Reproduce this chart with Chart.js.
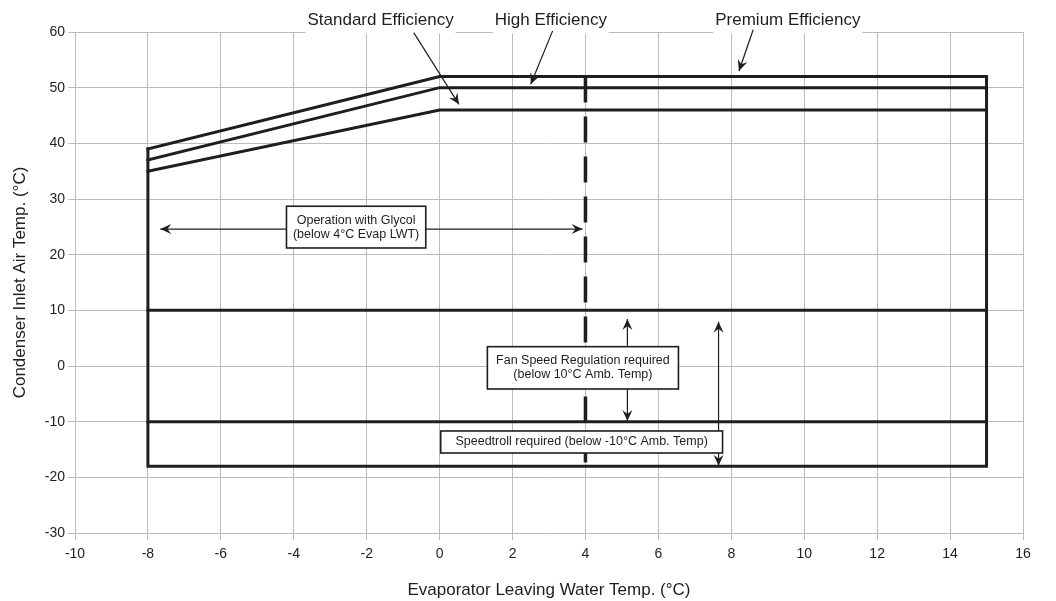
<!DOCTYPE html>
<html lang="en">
<head>
    <meta charset="UTF-8">
    <title>Operating Envelope</title>
    <script src="https://cdn.jsdelivr.net/npm/chart.js"></script>
    <style>
        html, body { margin: 0; padding: 0; background: #fff; }
        #wrap { width: 1056px; height: 601px; }
    </style>
</head>
<body>
    <div id="wrap"><canvas id="envelopeChart"></canvas></div>

    <script>
        // Envelope limits (x = evaporator LWT °C, y = condenser inlet air °C)
        const efficiencyX = [-8, 0, 15];
        const standardY = [35, 46, 46];
        const highY = [37, 50, 50];
        const premiumY = [39, 52, 52];
        const outlineX = [-8, -8, 15, 15];
        const outlineY = [39, -18, -18, 52];
        const limitX = [-8, 15];
        const fanLimitY = 10;
        const speedtrollLimitY = -10;
        const glycolX = 4;
        const glycolY = [52, -18];

        const topLabels = ['Standard Efficiency', 'High Efficiency', 'Premium Efficiency'];
        const topLabelX = [-1.62, 3.05, 9.55];

        const ink = '#1e1e1e';
        const gridGrey = '#bcbcbc';
        const fontFamily = '"Liberation Sans", Arial, sans-serif';
        Chart.defaults.font.family = fontFamily;

        // annotation layout, in axis units
        const arrows = [
            { from: [-0.71, 59.9], to: [0.53, 47.0] },
            { from: [3.10, 60.2], to: [2.50, 50.6] },
            { from: [8.60, 60.4], to: [8.21, 53.0] },
            { from: [-7.66, 24.6], to: [3.92, 24.6], both: true },
            { from: [5.15, 3.4], to: [5.15, 8.45] },
            { from: [5.15, -4.1], to: [5.15, -9.9] },
            { from: [7.65, 7.96], to: [7.65, -17.9], both: true }
        ];
        const boxes = [
            { x1: -4.2, y1: 28.7, x2: -0.38, y2: 21.2, lines: ['Operation with Glycol', '(below 4°C Evap LWT)'] },
            { x1: 1.31, y1: 3.47, x2: 6.55, y2: -4.13, lines: ['Fan Speed Regulation required', '(below 10°C Amb. Temp)'] },
            { x1: 0.03, y1: -11.67, x2: 7.76, y2: -15.63, lines: ['Speedtroll required (below -10°C Amb. Temp)'] }
        ];

        const pts = (xs, ys) => xs.map((v, i) => ({ x: v, y: ys[i] }));
        const lineSet = (data, extra) => Object.assign({
            data: data,
            showLine: true,
            borderColor: ink,
            borderWidth: 3,
            pointRadius: 0,
            tension: 0,
            fill: false,
            borderCapStyle: 'square',
            borderJoinStyle: 'miter'
        }, extra || {});

        function arrowHead(ctx, x1, y1, x2, y2) {
            const a = Math.atan2(y2 - y1, x2 - x1);
            const c = Math.cos(a), s = Math.sin(a);
            const L = 11, W = 5, N = 7;
            ctx.beginPath();
            ctx.moveTo(x2, y2);
            ctx.lineTo(x2 - L * c + W * s, y2 - L * s - W * c);
            ctx.lineTo(x2 - N * c, y2 - N * s);
            ctx.lineTo(x2 - L * c - W * s, y2 - L * s + W * c);
            ctx.closePath();
            ctx.fill();
        }

        const overlay = {
            id: 'overlay',
            afterDatasetsDraw(chart) {
                const { ctx, scales: { x, y } } = chart;
                const px = v => x.getPixelForValue(v);
                const py = v => y.getPixelForValue(v);
                ctx.save();

                // efficiency labels above the plot
                ctx.font = '17px ' + fontFamily;
                ctx.textAlign = 'center';
                ctx.textBaseline = 'middle';
                const topY = py(60);
                topLabels.forEach((t, i) => {
                    const cx = px(topLabelX[i]);
                    const cy = topY - 12;
                    const w = ctx.measureText(t).width;
                    ctx.fillStyle = '#fff';
                    ctx.fillRect(cx - w / 2 - 2, cy - 12, w + 4, topY - cy + 13.5);
                    ctx.fillStyle = ink;
                    ctx.fillText(t, cx, cy);
                });

                // arrows
                ctx.strokeStyle = ink;
                ctx.fillStyle = ink;
                ctx.lineWidth = 1.2;
                arrows.forEach(a => {
                    const x1 = px(a.from[0]), y1 = py(a.from[1]);
                    const x2 = px(a.to[0]), y2 = py(a.to[1]);
                    ctx.beginPath();
                    ctx.moveTo(x1, y1);
                    ctx.lineTo(x2, y2);
                    ctx.stroke();
                    arrowHead(ctx, x1, y1, x2, y2);
                    if (a.both) arrowHead(ctx, x2, y2, x1, y1);
                });

                // note boxes
                ctx.font = '12.5px ' + fontFamily;
                boxes.forEach(b => {
                    const l = px(b.x1), r = px(b.x2), t = py(b.y1), btm = py(b.y2);
                    ctx.fillStyle = '#fff';
                    ctx.fillRect(l, t, r - l, btm - t);
                    ctx.lineWidth = 1.6;
                    ctx.strokeStyle = ink;
                    ctx.strokeRect(l, t, r - l, btm - t);
                    ctx.fillStyle = ink;
                    const cx = (l + r) / 2, cy = (t + btm) / 2;
                    const start = cy - (b.lines.length - 1) * 7;
                    b.lines.forEach((ln, i) => ctx.fillText(ln, cx, start + i * 14));
                });

                ctx.restore();
            }
        };

        const ctx = document.getElementById('envelopeChart').getContext('2d');
        window.envelopeChart = new Chart(ctx, {
            type: 'scatter',
            data: {
                datasets: [
                    lineSet(pts(efficiencyX, standardY)),
                    lineSet(pts(efficiencyX, highY)),
                    lineSet(pts(efficiencyX, premiumY)),
                    lineSet(pts(outlineX, outlineY)),
                    lineSet(pts(limitX, [fanLimitY, fanLimitY])),
                    lineSet(pts(limitX, [speedtrollLimitY, speedtrollLimitY])),
                    lineSet(pts([glycolX, glycolX], glycolY), { borderWidth: 3.5, borderDash: [26, 14], borderCapStyle: 'butt' })
                ]
            },
            options: {
                responsive: true,
                maintainAspectRatio: false,
                animation: false,
                layout: { padding: { top: 32, right: 33, left: 0, bottom: 0 } },
                plugins: {
                    legend: { display: false },
                    tooltip: { enabled: false }
                },
                scales: {
                    x: {
                        type: 'linear',
                        min: -10,
                        max: 16,
                        ticks: { stepSize: 2, color: ink, font: { size: 14 }, padding: 6 },
                        grid: { color: gridGrey, tickLength: 7 },
                        border: { color: gridGrey },
                        title: {
                            display: true,
                            text: 'Evaporator Leaving Water Temp. (°C)',
                            color: ink,
                            font: { size: 17 },
                            padding: { bottom: 0 }
                        },
                        afterFit: s => { s.height = 68; }
                    },
                    y: {
                        type: 'linear',
                        min: -30,
                        max: 60,
                        ticks: { stepSize: 10, color: ink, font: { size: 14 }, padding: 3 },
                        grid: { color: gridGrey, tickLength: 7 },
                        border: { color: gridGrey },
                        title: {
                            display: true,
                            text: 'Condenser Inlet Air Temp. (°C)',
                            color: ink,
                            font: { size: 17 },
                            padding: { top: 10 }
                        },
                        afterFit: s => { s.width = 75; }
                    }
                }
            },
            plugins: [overlay]
        });
    </script>
</body>
</html>
